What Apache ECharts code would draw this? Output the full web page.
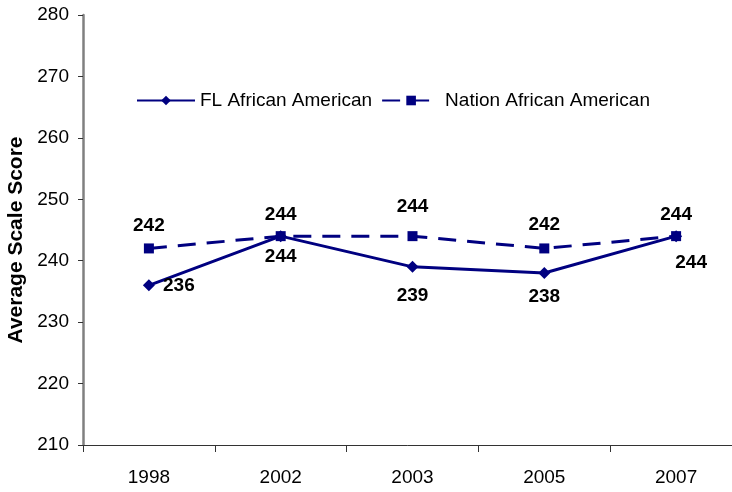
<!DOCTYPE html>
<html>
<head>
<meta charset="utf-8">
<script src="https://cdn.jsdelivr.net/npm/echarts@6/dist/echarts.min.js"></script>
<style>
  html, body { margin: 0; padding: 0; background: #fff; }
  #chart { width: 732px; height: 492px; }
</style>
</head>
<body>
<div id="chart"></div>
<script>
// data
const years = ["1998", "2002", "2003", "2005", "2007"];
const flScores = [236, 244, 239, 238, 244];
const nationScores = [242, 244, 244, 242, 244];
const yTicks = [210, 220, 230, 240, 250, 260, 270, 280];

// label offsets (center shift from the point), style only
const flLabelShift = [[30, 0], [0, 21], [0, 29], [0, 24], [15, 27]];
const nationLabelShift = [[0, -23], [0, -21], [0, -29], [0, -24], [0, -21]];

const navy = "#000080";
const font = "'Liberation Sans', Arial, sans-serif";

function withLabels(values, shifts) {
  return values.map((v, i) => ({
    value: v,
    label: { offset: shifts[i] },
  }));
}

var chart = echarts.init(document.getElementById("chart"));
var option = {
  animation: false,
  backgroundColor: "#fff",
  grid: { left: 83, right: -10, top: 15, bottom: 47, outerBoundsMode: "none", containLabel: false },
  legend: {
    left: 131,
    top: 86,
    itemWidth: 58,
    itemHeight: 12,
    itemGap: 9,
    textStyle: { fontFamily: font, fontSize: 19, color: "#000" },
    data: ["FL African American", "Nation African American"],
  },
  xAxis: {
    type: "category",
    data: years,
    boundaryGap: true,
    axisLine: { lineStyle: { color: "#333", width: 1 } },
    axisTick: { show: true, length: 7, lineStyle: { color: "#333" } },
    axisLabel: { fontFamily: font, fontSize: 19, color: "#000", margin: 23 },
    splitLine: { show: false },
  },
  yAxis: {
    type: "value",
    min: yTicks[0],
    max: yTicks[yTicks.length - 1],
    interval: 10,
    name: "Average Scale Score",
    nameLocation: "middle",
    nameGap: 56,
    nameTextStyle: {
      fontFamily: font,
      fontSize: 21,
      fontWeight: "bold",
      color: "#000",
      padding: [0, 20, 0, 0],
    },
    axisLine: { show: true, lineStyle: { color: "#808080", width: 2.5 } },
    axisTick: { show: true, length: 5, lineStyle: { color: "#333" } },
    axisLabel: { fontFamily: font, fontSize: 19, color: "#000", margin: 14 },
    splitLine: { show: false },
  },
  series: [
    {
      name: "FL African American",
      type: "line",
      data: withLabels(flScores, flLabelShift),
      symbol: "diamond",
      symbolSize: 12,
      lineStyle: { color: navy, width: 3 },
      itemStyle: { color: navy },
      label: {
        show: true,
        position: "inside",
        fontFamily: font,
        fontSize: 19,
        fontWeight: "bold",
        color: "#000",
      },
      z: 3,
    },
    {
      name: "Nation African American",
      type: "line",
      data: withLabels(nationScores, nationLabelShift),
      symbol: "rect",
      symbolSize: 10,
      lineStyle: { color: navy, width: 3, type: [18, 11] },
      itemStyle: { color: navy },
      label: {
        show: true,
        position: "inside",
        fontFamily: font,
        fontSize: 19,
        fontWeight: "bold",
        color: "#000",
      },
      z: 2,
    },
  ],
};
chart.setOption(option);
</script>
</body>
</html>
